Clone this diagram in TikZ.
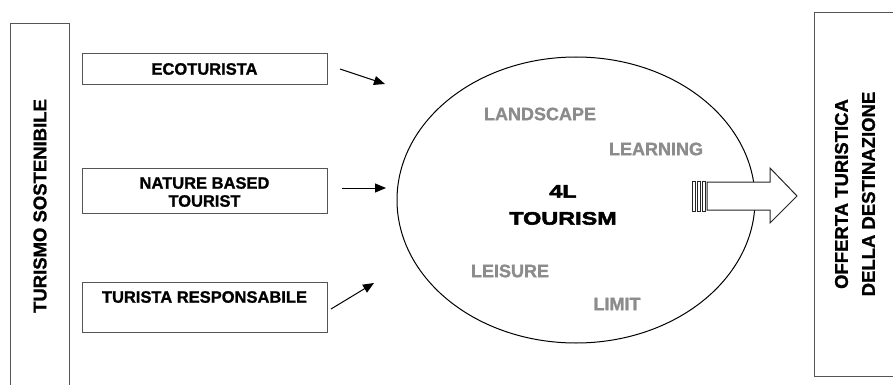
\documentclass[tikz,border=0pt]{standalone}
\usepackage{fontspec}
\setmainfont{Liberation Sans}[BoldFeatures={FakeBold=1.2}]
\newfontfamily\blackfont[FakeStretch=1.3,FakeBold=3]{Liberation Sans Bold}
\usetikzlibrary{arrows.meta,shapes.geometric}
\definecolor{boxgray}{HTML}{555555}
\definecolor{txtgray}{HTML}{8C8C8C}
\begin{document}
\begin{tikzpicture}[x=1pt,y=-1pt,
  box/.style={draw=boxgray, line width=1.3pt, inner sep=0pt, anchor=north west},
  lbl/.style={font=\bfseries\fontsize{16.5}{18}\selectfont, align=center, inner sep=0pt},
  vlbl/.style={font=\bfseries\fontsize{18.5}{27}\selectfont, align=center, inner sep=0pt, rotate=90},
  glbl/.style={font=\bfseries\fontsize{18}{20}\selectfont, text=txtgray, inner sep=0pt},
  conn/.style={-{Triangle[length=11pt,width=9pt]}, line width=1pt},
  blk/.style={draw=black!85, fill=white, line width=1pt}
]
\useasboundingbox (0,0) rectangle (893,385);
\clip (0,0) rectangle (893,385);
\fill[white] (0,0) rectangle (893,385);

% left tall box
\node[box, minimum width=59, minimum height=400] (sust) at (10,23) {};
\node[vlbl] (sustT) at (40,206) {TURISMO SOSTENIBILE};

% three boxes
\node[box, minimum width=245, minimum height=31] (eco) at (82,53) {};
\node[lbl] (ecoT) at (204.5,69) {ECOTURISTA};
\node[box, minimum width=245, minimum height=45] (nat) at (82,168) {};
\node[lbl] (natT) at (204.5,192) {NATURE BASED\\TOURIST};
\node[box, minimum width=245, minimum height=50] (resp) at (82,282) {};
\node[lbl] (respT) at (204.5,297) {TURISTA RESPONSABILE};

% arrows
\coordinate (a1s) at (340,69); \coordinate (a1e) at (385,84);
\coordinate (a2s) at (342,188); \coordinate (a2e) at (386,188);
\coordinate (a3s) at (331,309); \coordinate (a3e) at (374,283);
\draw[conn] (a1s) -- (a1e);
\draw[conn] (a2s) -- (a2e);
\draw[conn] (a3s) -- (a3e);

% ellipse
\node[draw, ellipse, line width=1pt, minimum width=358, minimum height=286, inner sep=0pt] (ell) at (576,200) {};
\node[glbl] (land) at (540,114) {LANDSCAPE};
\node[glbl] (learn) at (656,149) {LEARNING};
\node[glbl] (leis) at (510,271) {LEISURE};
\node[glbl] (lim) at (617,304) {LIMIT};
\node[font=\blackfont\fontsize{18}{27}\selectfont, align=center, inner sep=0pt] (core) at (563,205) {4L\\TOURISM};

% block arrow
\draw[blk] (692,181) rectangle (695.5,211);
\draw[blk] (697,181) rectangle (700.5,211);
\draw[blk] (702,181) rectangle (705.5,211);
\draw[blk] (707,182) -- (770,182) -- (770,168) -- (797,196) -- (770,223) -- (770,210) -- (707,210) -- cycle;

% right box
\node[box, minimum width=100, minimum height=364] (offer) at (814,12) {};
\node[vlbl] (offerT) at (855,194) {OFFERTA TURISTICA\\DELLA DESTINAZIONE};
\end{tikzpicture}
\end{document}
